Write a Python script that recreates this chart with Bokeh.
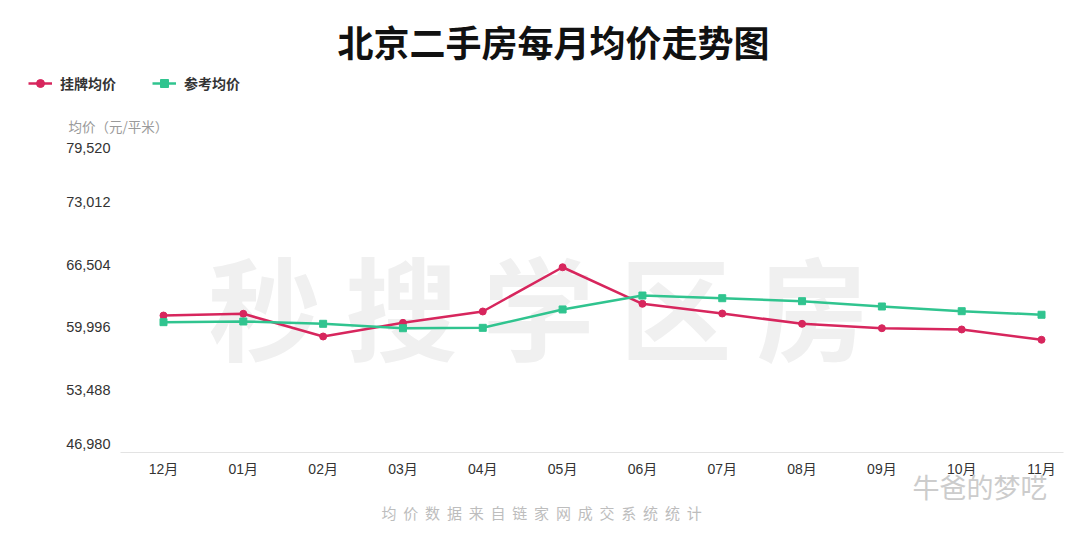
from bokeh.plotting import figure
from bokeh.models import (Range1d, FixedTicker, NumeralTickFormatter, Label, Legend, LegendItem,
                          ColumnDataSource, LinearAxis)
from bokeh.embed import file_html
from bokeh.resources import INLINE

# ---------------- data ----------------
months = ["12月", "01月", "02月", "03月", "04月", "05月", "06月", "07月", "08月", "09月", "10月", "11月"]
listing_price = [61220, 61400, 59040, 60460, 61640, 66240, 62440, 61430, 60360, 59900, 59770, 58700]
reference_price = [60530, 60600, 60360, 59900, 59940, 61850, 63300, 63020, 62710, 62160, 61670, 61300]
y_ticks = [46980, 53488, 59996, 66504, 73012, 79520]
series_names = ["挂牌均价", "参考均价"]

title_text = "北京二手房每月均价走势图"
y_axis_title = "均价（元/平米）"
footer_text = "均价数据来自链家网成交系统统计"
watermark_text = "秒搜学区房"
wechat_text = "牛爸的梦呓"

PINK = "#d7265d"
GREEN = "#30c48f"
CJK = "Noto Sans CJK SC"
NUM = "'Liberation Sans', 'Noto Sans CJK SC'"

W, H = 1080, 535
# plotting area (page pixels) and the data values at its edges
PL, PR, PT, PB = 120, 1063, 139, 452
X0PIX, XSTEP = 163.0, 79.82          # pixel of first category and category step
ypp = (y_ticks[-1] - y_ticks[0]) / (PB - PT)   # data per pixel

x_start = (0 - X0PIX) / XSTEP
x_end = (W - X0PIX) / XSTEP
y_top = y_ticks[-1] + PT * ypp
y_bot = y_ticks[0] - (H - PB) * ypp
x_left_edge = (PL - X0PIX) / XSTEP
x_right_edge = (PR - X0PIX) / XSTEP

xs = list(range(len(months)))
src = ColumnDataSource(dict(x=xs, m=months, a=listing_price, b=reference_price))

p = figure(width=W, height=H, output_backend="svg", toolbar_location=None,
           x_range=Range1d(x_start, x_end), y_range=Range1d(y_bot, y_top),
           x_axis_type=None, y_axis_type=None,
           min_border=0, min_border_left=0, min_border_right=0, min_border_top=0,
           min_border_bottom=0)
p.outline_line_color = None
p.xgrid.grid_line_color = None
p.ygrid.grid_line_color = None
p.background_fill_color = "white"
p.border_fill_color = "white"


def lab(text, X, Y, size, color, align="center", baseline="middle", bold=False, font=CJK,
        level="annotation"):
    l = Label(x=X, y=H - Y, x_units="screen", y_units="screen", text=text,
              text_font_size=f"{size}px", text_color=color, text_align=align,
              text_baseline=baseline, text_font=font,
              text_font_style="bold" if bold else "normal", level=level)
    p.add_layout(l)
    return l


# watermark
wm_centers = [264, 401, 538, 675, 812]
for ch, cx in zip(watermark_text, wm_centers):
    lab(ch, cx, 303, 112, "#f0f0f0", bold=True, level="underlay")

# lines
r1 = p.line("x", "a", source=src, line_color=PINK, line_width=2.5)
r1m = p.scatter("x", "a", source=src, marker="circle", size=7, fill_color=PINK, line_color=PINK)
r2 = p.line("x", "b", source=src, line_color=GREEN, line_width=2.5)
r2m = p.scatter("x", "b", source=src, marker="square", size=7, fill_color=GREEN, line_color=GREEN)

# x axis
xa = LinearAxis(ticker=FixedTicker(ticks=xs), fixed_location=y_ticks[0],
                bounds=(x_left_edge, x_right_edge))
xa.major_label_overrides = {i: m for i, m in enumerate(months)}
xa.axis_line_color = "#e3e3e3"
xa.major_tick_line_color = None
xa.major_tick_out = 0
xa.major_tick_in = 0
xa.minor_tick_line_color = None
xa.major_label_text_font_size = "14px"
xa.major_label_text_color = "#333333"
xa.major_label_text_font = NUM
xa.major_label_standoff = 8
p.add_layout(xa, "below")

# y axis (middle ticks)
ya = LinearAxis(ticker=FixedTicker(ticks=y_ticks[1:-1]), fixed_location=x_left_edge,
                formatter=NumeralTickFormatter(format="0,0"))
ya.axis_line_color = None
ya.major_tick_line_color = None
ya.major_tick_out = 0
ya.major_tick_in = 0
ya.minor_tick_line_color = None
ya.major_label_text_font_size = "14.5px"
ya.major_label_text_color = "#333333"
ya.major_label_text_font = NUM
ya.major_label_standoff = 10
p.add_layout(ya, "left")

# extreme y tick labels, aligned inward as in the original
for val, base, off in [(y_ticks[-1], "top", -3), (y_ticks[0], "bottom", 4)]:
    p.add_layout(Label(x=x_left_edge, y=val, x_offset=-10, y_offset=off, text=f"{val:,}",
                       text_align="right", text_baseline=base, text_font_size="14.5px",
                       text_color="#333333", text_font=NUM))

# title & texts
lab(title_text, 553, 40, 36, "#111111", bold=True)
lab(y_axis_title, 68, 125, 13.5, "#9a9a9a", align="left")
ft_x0 = 381
for i, ch in enumerate(footer_text):
    lab(ch, ft_x0 + 7.5 + i * 21.8, 512, 15, "#bdbdbd")
lab(wechat_text, 912, 486, 27, "#cccccc", align="left")

# legend
legend = Legend(items=[LegendItem(label=series_names[0], renderers=[r1, r1m]),
                       LegendItem(label=series_names[1], renderers=[r2, r2m])],
                orientation="horizontal", location=(28, H - 93),
                glyph_width=24, glyph_height=20, label_height=20, label_standoff=8,
                spacing=36, padding=0, margin=0, border_line_color=None,
                background_fill_alpha=0, label_text_font=CJK, label_text_font_style="bold",
                label_text_font_size="14px", label_text_color="#333333")
p.add_layout(legend, "center")

open("out.html", "w").write(file_html(p, INLINE))
